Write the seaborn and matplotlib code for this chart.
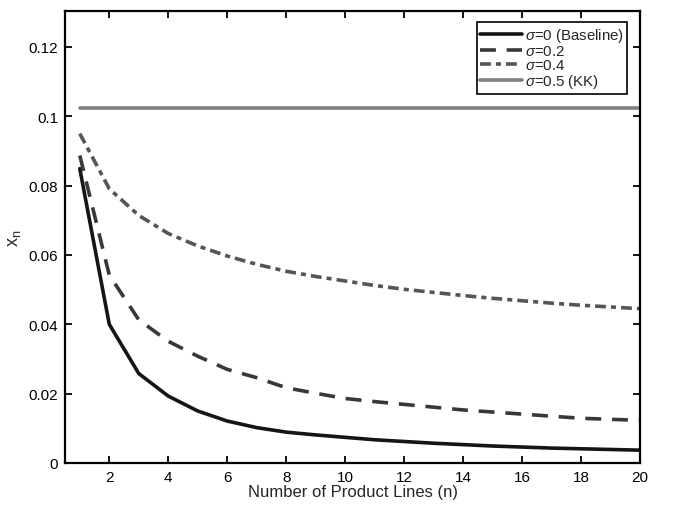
import numpy as np
import pandas as pd
import seaborn as sns
import matplotlib
matplotlib.use("Agg")
import matplotlib.pyplot as plt
from matplotlib.ticker import FuncFormatter

# values
n_lines = list(range(1, 21))
x_baseline = [0.0849, 0.0400, 0.0258, 0.0193, 0.0150, 0.0121, 0.0102, 0.0089, 0.0081, 0.0074,
              0.0067, 0.0062, 0.0057, 0.0053, 0.0049, 0.0046, 0.0043, 0.0041, 0.0039, 0.0037]
x_sigma02 = [0.0887, 0.0542, 0.0413, 0.0351, 0.0308, 0.0270, 0.0246, 0.0217, 0.0201, 0.0186,
             0.0177, 0.0169, 0.0161, 0.0153, 0.0147, 0.0141, 0.0135, 0.0129, 0.0126, 0.0123]
x_sigma04 = [0.0950, 0.0791, 0.0714, 0.0662, 0.0626, 0.0597, 0.0573, 0.0553, 0.0538, 0.0525,
             0.0512, 0.0501, 0.0492, 0.0483, 0.0475, 0.0468, 0.0461, 0.0455, 0.0450, 0.0445]
x_sigma05 = [0.1023] * 20

labels = [r"$\sigma$=0 (Baseline)", r"$\sigma$=0.2", r"$\sigma$=0.4", r"$\sigma$=0.5 (KK)"]
colors = ["#151515", "#383838", "#555555", "#7f7f7f"]
dashes = [None, (4.4, 3.0), (3.0, 1.4, 1.4, 1.4), None]

sns.set_style("ticks")
plt.rcParams["font.family"] = ["Liberation Sans", "DejaVu Sans"]
plt.rcParams["mathtext.fontset"] = "custom"
plt.rcParams["mathtext.rm"] = "Liberation Sans"
plt.rcParams["mathtext.it"] = "Liberation Sans:italic"

fig = plt.figure(figsize=(6.81, 5.10), dpi=100)
ax = fig.add_axes([0.0955, 0.0902, 0.8445, 0.8858])

series = [x_baseline, x_sigma02, x_sigma04, x_sigma05]
for vals, lab, col, ds in zip(series, labels, colors, dashes):
    df = pd.DataFrame({"n": n_lines, "x": vals})
    sns.lineplot(data=df, x="n", y="x", ax=ax, color=col, linewidth=2.6, label=lab)
    if ds is not None:
        ax.get_lines()[-1].set_dashes(ds)

ax.set_xlim(0.5, 20)
ax.set_ylim(0, 0.1303)
ax.set_xticks(range(2, 21, 2))
ax.set_yticks(np.arange(0, 0.121, 0.02))
ax.yaxis.set_major_formatter(FuncFormatter(lambda v, p: "%g" % round(v, 3)))

ax.tick_params(direction="in", top=True, right=True, length=5, width=1.3,
               labelsize=11, colors="black", pad=5)
for sp in ax.spines.values():
    sp.set_linewidth(1.6)
    sp.set_color("black")

ax.set_xlabel("Number of Product Lines (n)", fontsize=12, labelpad=0)
ax.set_ylabel(r"x$_\mathrm{n}$", fontsize=13, labelpad=4)

leg = ax.legend(loc="upper right", bbox_to_anchor=(0.978, 0.976), fontsize=10.8,
                frameon=True, fancybox=False, handlelength=2.8, handletextpad=0.15,
                borderpad=0.25, labelspacing=0.0, borderaxespad=0.0)
leg.get_frame().set_edgecolor("black")
leg.get_frame().set_linewidth(1.2)
leg.get_frame().set_alpha(1)

fig.savefig("out.png", dpi=100)
